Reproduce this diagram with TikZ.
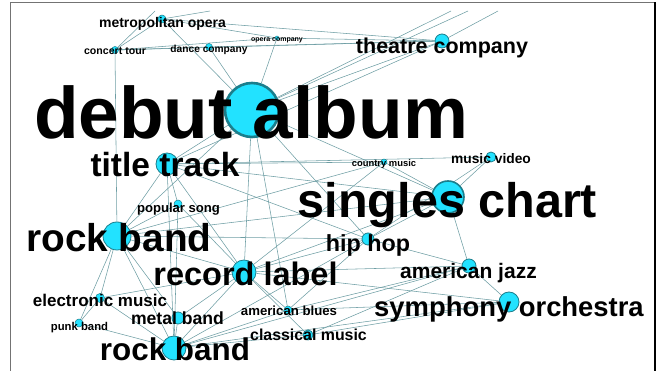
\documentclass[tikz,border=0pt]{standalone}
\usepackage{fontspec}
\setmainfont{Liberation Sans}
\usetikzlibrary{backgrounds}
\definecolor{vfill}{HTML}{22E2FF}
\definecolor{vline}{HTML}{1B7E8C}
\definecolor{eline}{HTML}{6E9EA4}
\tikzset{
  vtx/.style={circle, inner sep=0pt, fill=vfill, draw=vline, line width=0.8pt, minimum size=#1},
  lbl/.style={anchor=base, inner sep=0pt, text=black, font=\bfseries\fontsize{#1}{#1}\selectfont},
  edge/.style={draw=eline, line width=0.55pt},
  frameg/.style={draw=black!55, line width=1.8pt},
  framek/.style={draw=black, line width=1.4pt}
}
\begin{document}
\begin{tikzpicture}[x=1pt,y=-1pt]
\useasboundingbox (0,0) rectangle (662,371);
% vertices
\node[vtx=54pt, line width=2.6pt] (A) at (252,110) {};
\node[vtx=32pt, line width=1.6pt] (B) at (448,197) {};
\node[vtx=22pt] (C) at (167,164) {};
\node[vtx=28pt] (D) at (117,236) {};
\node[vtx=24pt] (E) at (244,272) {};
\node[vtx=24pt] (F) at (174,348) {};
\node[vtx=14pt] (G) at (442,41) {};
\node[vtx=20pt] (H) at (509,302) {};
\node[vtx=14pt] (I) at (469,266) {};
\node[vtx=12pt] (J) at (368,239) {};
\node[vtx=10pt] (K) at (491,157) {};
\node[vtx=6pt, line width=0.5pt] (L) at (384,162) {};
\node[vtx=8pt, line width=0.5pt] (M) at (162,19) {};
\node[vtx=7pt, line width=0.5pt] (N) at (115,50) {};
\node[vtx=7pt, line width=0.5pt] (O) at (209,47) {};
\node[vtx=4pt, line width=0.4pt] (P) at (277,38) {};
\node[vtx=8pt, line width=0.5pt] (Q) at (178,204) {};
\node[vtx=9pt, line width=0.5pt] (R) at (100,298) {};
\node[vtx=12pt] (S) at (178,318) {};
\node[vtx=8pt, line width=0.5pt] (T) at (79,323) {};
\node[vtx=8pt, line width=0.5pt] (U) at (288,310) {};
\node[vtx=10pt] (V) at (308,335) {};
\coordinate (t1) at (155,11);
\coordinate (t2) at (210,11);
\coordinate (t3) at (451,11);
\coordinate (t4) at (468,11);
\coordinate (t5) at (498,11);
% edges
\begin{scope}[on background layer]
\foreach \a/\b in {M/N,M/G,M/P,M/A,M/t2,N/t1,N/O,N/G,N/D,N/P,O/A,O/G,P/G,P/A,G/A,A/t3,A/t4,G/t5,G/C,
  C/A,C/D,C/E,C/Q,C/L,C/K,C/B,C/F,C/J,L/B,L/E,K/B,K/J,
  B/A,B/J,B/E,B/D,B/I,J/E,J/D,J/F,J/I,J/A,J/U,
  D/R,D/T,D/F,D/E,D/Q,D/S,D/A,E/Q,E/F,E/S,E/U,E/V,E/I,E/H,E/R,E/A,
  R/T,R/F,T/F,S/F,F/U,F/V,F/I,F/H,F/Q,U/H,U/I,V/H,V/I,I/H,A/U,L/D}
  \draw[edge] (\a) -- (\b);
\end{scope}
% labels
\node[lbl=73] (Al) at (251,139) {debut album};
\node[lbl=48.5] (Bl) at (447.5,218) {singles chart};
\node[lbl=33.5] (Cl) at (165,177) {title track};
\node[lbl=38.8] (Dl) at (119,252) {rock band};
\node[lbl=32.5] (El) at (245.5,286) {record label};
\node[lbl=31.4] (Fl) at (175,361) {rock band};
\node[lbl=21.5] (Gl) at (442,53.5) {theatre company};
\node[lbl=27.4] (Hl) at (509,316.5) {symphony orchestra};
\node[lbl=21] (Il) at (468.5,278.5) {american jazz};
\node[lbl=23.3] (Jl) at (368,252) {hip hop};
\node[lbl=13.8] (Kl) at (491,163.5) {music video};
\node[lbl=9.4] (Ll) at (384,166.8) {country music};
\node[lbl=14] (Ml) at (162.5,27.3) {metropolitan opera};
\node[lbl=10.6] (Nl) at (115,54.5) {concert tour};
\node[lbl=10.2] (Ol) at (209,52.7) {dance company};
\node[lbl=7] (Pl) at (277,41.3) {opera company};
\node[lbl=13.1] (Ql) at (178.5,212.3) {popular song};
\node[lbl=17] (Rl) at (100,306.7) {electronic music};
\node[lbl=17.6] (Sl) at (177.5,325) {metal band};
\node[lbl=11.3] (Tl) at (79.5,330.7) {punk band};
\node[lbl=13.2] (Ul) at (289,316) {american blues};
\node[lbl=15.9] (Vl) at (308.5,341) {classical music};
% frame
\draw[frameg] (10.5,371) -- (10.5,2.5) -- (655,2.5);
\draw[framek] (655,2.5) -- (655,371);
\end{tikzpicture}
\end{document}
